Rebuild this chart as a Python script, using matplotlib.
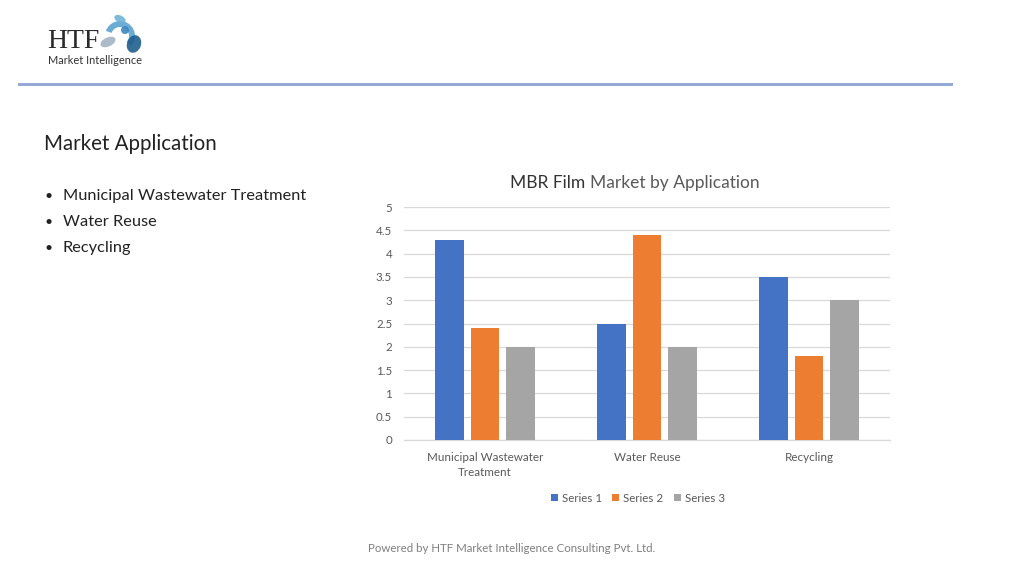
import matplotlib
matplotlib.use("Agg")
import matplotlib.pyplot as plt
from matplotlib.patches import Ellipse, Wedge, Rectangle
import numpy as np

categories = ["Municipal Wastewater\nTreatment", "Water Reuse", "Recycling"]
series_names = ["Series 1", "Series 2", "Series 3"]
series1 = [4.3, 2.5, 3.5]
series2 = [2.4, 4.4, 1.8]
series3 = [2.0, 2.0, 3.0]
yticks = [0, 0.5, 1, 1.5, 2, 2.5, 3, 3.5, 4, 4.5, 5]
ytick_labels = ["0", "0.5", "1", "1.5", "2", "2.5", "3", "3.5", "4", "4.5", "5"]
bullets = ["Municipal Wastewater Treatment", "Water Reuse", "Recycling"]

colors = ["#4472C4", "#ED7D31", "#A5A5A5"]
FONT = ["Lato", "DejaVu Sans"]
plt.rcParams['font.family'] = FONT

W, H = 1024, 576
fig = plt.figure(figsize=(W / 100, H / 100), dpi=100)
fig.patch.set_facecolor("white")

def fx(x):
    return x / W

def fy(y):
    return 1 - y / H

# Slide overlay axes in pixel coordinates
bg = fig.add_axes([0, 0, 1, 1])
bg.set_xlim(0, W)
bg.set_ylim(H, 0)
bg.axis("off")

# Header rule
bg.add_patch(Rectangle((18, 82.5), 935, 3, color="#95A9D6", lw=0))

# Logo
bg.text(47, 48, "HTF", fontsize=20, family=["Liberation Serif", "DejaVu Serif"],
        color="#2B2B2B", va="baseline", ha="left")
bg.text(48, 64, "Market Intelligence", fontsize=7.9, color="#333333",
        va="baseline", ha="left")
bg.add_patch(Wedge((120, 36), 15, 200, 40, width=6, color="#5BA3D0", lw=0, alpha=0.9))
bg.add_patch(Ellipse((120, 19), 12, 7, angle=25, color="#6FB3D9", lw=0, alpha=0.9))
bg.add_patch(Ellipse((108, 42), 16, 9, angle=-25, color="#A9B8C6", lw=0, alpha=0.95))
bg.add_patch(Ellipse((134, 44), 14, 18, angle=20, color="#1F5E8C", lw=0, alpha=0.9))
bg.add_patch(Ellipse((125, 30), 8, 8, color="#3D86BF", lw=0, alpha=0.9))

# Section title and bullets
bg.text(44, 144, "Market Application", fontsize=14.8, color="#222222",
        va="center", ha="left")
for i, b in enumerate(bullets):
    y = 196 + 26 * i
    bg.text(45, y, "\u2022", fontsize=10, color="#222222", va="center", ha="left")
    bg.text(63, y, b, fontsize=11.8, color="#222222", va="center", ha="left")

# Chart title
t1 = bg.text(510, 183, "MBR Film ", fontsize=12.5, color="#333333", va="center", ha="left")
fig.canvas.draw()
bb = t1.get_window_extent(renderer=fig.canvas.get_renderer())
x_next = bb.x1
bg.text(x_next, 183, "Market by Application", fontsize=12.5, color="#595959",
        va="center", ha="left")

# Footer
bg.text(512, 549, "Powered by HTF Market Intelligence Consulting Pvt. Ltd.",
        fontsize=8.3, color="#7F7F7F", va="center", ha="center")

# Chart axes
ax = fig.add_axes([fx(404), fy(440), fx(890) - fx(404), fy(207) - fy(440)])
ax.set_facecolor("none")
x = np.arange(len(categories))
bw = 0.175
off = 0.22
for i, (vals, name) in enumerate(zip([series1, series2, series3], series_names)):
    ax.bar(x + (i - 1) * off, vals, width=bw, color=colors[i], label=name, zorder=3)

ax.set_xlim(-0.5, 2.5)
ax.set_ylim(0, 5)
ax.set_yticks(yticks)
ax.set_yticklabels(ytick_labels)
ax.yaxis.grid(True, color="#D9D9D9", lw=0.9, zorder=0)
ax.set_axisbelow(True)
for s in ["top", "right", "left"]:
    ax.spines[s].set_visible(False)
ax.spines["bottom"].set_color("#D9D9D9")
ax.spines["bottom"].set_linewidth(0.9)
ax.tick_params(axis="y", length=0, pad=8.5, labelsize=8.3, labelcolor="#595959")
ax.set_xticks(x)
ax.set_xticklabels(categories, fontsize=8.4, color="#595959", linespacing=1.45)
ax.tick_params(axis="x", length=0, pad=8.5)

leg = ax.legend(loc="center", bbox_to_anchor=(fx(638), fy(498)),
                bbox_transform=fig.transFigure, ncol=3, frameon=False,
                fontsize=8.3, handlelength=0.6, handleheight=0.6, handletextpad=0.35,
                columnspacing=0.9, labelcolor="#595959")

fig.savefig("out.png", dpi=100, facecolor="white")
